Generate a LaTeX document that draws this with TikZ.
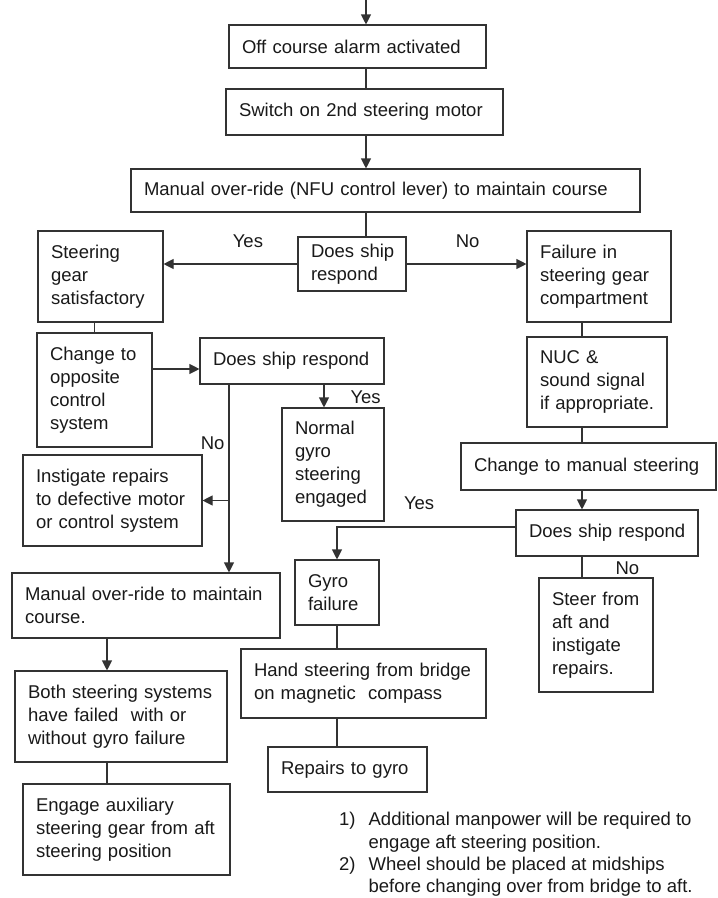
\documentclass[tikz,border=0pt]{standalone}
\usepackage{fontspec}
\setmainfont{Liberation Sans}
\usetikzlibrary{arrows.meta}

\begin{document}
\begin{tikzpicture}[
    x=1pt, y=-1pt,
    font=\fontsize{18.5}{23}\selectfont,
    >={Triangle[length=10pt, width=10pt]},
    box/.style={draw=black!80, line width=1.1pt, align=left, inner xsep=13pt,
                inner ysep=0pt, text=black!90,
                execute at begin node={\rightskip=0pt plus 1fil minus 40pt\hyphenpenalty=10000}},
    link/.style={draw=black!80, line width=1.1pt},
    arrow/.style={link, ->},
    lbl/.style={inner sep=0pt, text=black!90},
]
\useasboundingbox (0,0) rectangle (718,898);

\node[box, text width=231pt, minimum height=43pt] (alarm) at (357.5,46.5) {Off course alarm activated};
\node[box, text width=251pt, minimum height=46pt] (motor) at (364.5,112) {Switch on 2nd steering motor};
\node[box, text width=483pt, minimum height=43pt] (nfu) at (385.5,190.5) {Manual over-ride (NFU control lever) to maintain course};
\node[box, text width=82pt, minimum height=54pt] (respond) at (352,264) {Does ship\\respond};

\node[box, text width=99pt, minimum height=91pt] (gear) at (100.5,276.5) {Steering\\gear\\satisfactory};
\node[box, text width=89pt, minimum height=114pt] (opposite) at (94.5,390) {Change to\\opposite\\control\\system};
\node[box, text width=158pt, minimum height=46pt] (respondB) at (292,361) {Does ship respond};
\node[box, text width=76pt, minimum height=113pt] (normal) at (333,464.5) {Normal\\gyro\\steering\\engaged};
\node[box, text width=153pt, minimum height=91pt] (repairs) at (112.5,500.5) {Instigate repairs\\to defective motor\\or control system};
\node[box, text width=242pt, minimum height=65pt] (override) at (146,605.5) {Manual over-ride to maintain\\course.};
\node[box, text width=186pt, minimum height=91pt] (bothfail) at (121,716.5) {Both steering systems\\have failed\ \ with or\\without gyro failure};
\node[box, text width=181pt, minimum height=91pt] (auxgear) at (126.5,829.5) {Engage auxiliary\\steering gear from aft\\steering position};

\node[box, text width=118pt, minimum height=91pt] (failure) at (599,276.5) {Failure in\\steering gear\\compartment};
\node[box, text width=114pt, minimum height=90pt] (nuc) at (597,382) {NUC \&\\sound signal\\if appropriate.};
\node[box, text width=229pt, minimum height=47pt] (manual) at (588.5,466.5) {Change to manual steering};
\node[box, text width=156pt, minimum height=46pt] (respondC) at (607,533) {Does ship respond};
\node[box, text width=58pt, minimum height=65pt] (gyro) at (337,592.5) {Gyro\\failure};
\node[box, text width=219pt, minimum height=69pt] (hand) at (363.5,683.5) {Hand steering from bridge\\on magnetic\ \ compass};
\node[box, text width=133pt, minimum height=45pt] (gyrofix) at (347.5,769.5) {Repairs to gyro};
\node[box, text width=88pt, minimum height=114pt] (aft) at (596,635) {Steer from\\aft and\\instigate\\repairs.};

\node[lbl, anchor=north west] (notes) at (339,810) {\fontsize{18.5}{22.3}\selectfont
    \begin{tabular}{@{}l@{\hspace{13pt}}l@{}}
    1) & Additional manpower will be required to\\
       & engage aft steering position.\\
    2) & Wheel should be placed at midships\\
       & before changing over from bridge to aft.
    \end{tabular}};

\coordinate (spine) at (366,0);
\coordinate (lspine) at (107,0);
\coordinate (rspine) at (582,0);
\coordinate (nobranch) at (229,0);
\coordinate (yesdrop) at (324,0);

\draw[arrow] (spine) -- (spine |- alarm.north);
\draw[link] (spine |- alarm.south) -- (spine |- motor.north);
\draw[arrow] (spine |- motor.south) -- (spine |- nfu.north);
\draw[link] (spine |- nfu.south) -- (spine |- respond.north);
\draw[arrow] (respond.west) -- node[lbl, pos=0.37, above=16pt] {Yes} (respond.west -| gear.east);
\draw[arrow] (respond.east) -- node[lbl, pos=0.51, above=16pt] {No} (respond.east -| failure.west);

\draw[link] (opposite.north) -- (opposite.north |- gear.south);
\draw[arrow] ([yshift=21pt]opposite.east) -- ([yshift=21pt]opposite.east -| respondB.west);
\draw[arrow] (nobranch |- respondB.south) -- node[lbl, pos=0.31, left=4pt] {No} (nobranch |- override.north);
\draw[arrow] (nobranch |- repairs.east) -- (repairs.east);
\draw[arrow] (yesdrop |- respondB.south) -- node[lbl, pos=0.55, right=26pt] {Yes} (yesdrop |- normal.north);
\draw[arrow] (lspine |- override.south) -- (lspine |- bothfail.north);
\draw[link] (lspine |- bothfail.south) -- (lspine |- auxgear.north);

\draw[link] (rspine |- failure.south) -- (rspine |- nuc.north);
\draw[link] (rspine |- nuc.south) -- (rspine |- manual.north);
\draw[arrow] (rspine |- manual.south) -- (rspine |- respondC.north);
\draw[link] (rspine |- respondC.south) -- node[lbl, pos=0.55, right=33pt] {No} (rspine |- aft.north);
\draw[arrow] ([yshift=6pt]respondC.west) -- node[lbl, pos=0.54, above=17pt] {Yes}
    ([yshift=6pt]respondC.west -| gyro.north) -- (gyro.north);
\draw[link] (gyro.south) -- (gyro.south |- hand.north);
\draw[link] (gyro.south |- hand.south) -- (gyro.south |- gyrofix.north);

\end{tikzpicture}
\end{document}
